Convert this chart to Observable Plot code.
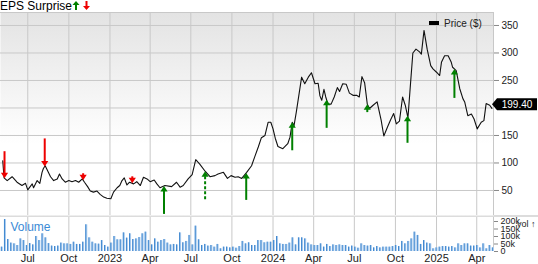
<!DOCTYPE html>
<html>
<head>
<meta charset="utf-8">
<script src="https://cdn.jsdelivr.net/npm/d3@7"></script>
<script src="https://cdn.jsdelivr.net/npm/@observablehq/plot@0.6"></script>
<style>
  html, body { margin: 0; padding: 0; background: #fff; }
  #wrap { position: relative; width: 538px; height: 264px; overflow: hidden;
          font-family: "Liberation Sans", Arial, Helvetica, sans-serif; }
  #title { height: 12px; font-size: 12px; line-height: 12px; color: #000; white-space: nowrap; display: flex; align-items: flex-start; }
  #title svg { display: inline-block; margin-top: 1px; }
  #legend { position: absolute; left: 429px; top: 18px; font-size: 10px; line-height: 12px; color: #222; white-space: nowrap; }
  #legend span.sw { display: inline-block; width: 10px; height: 4px; background: #000; vertical-align: middle; margin-right: 5px; position: relative; top: -1px; }
  #volbox { border-top: 2px solid #dcdcdc; }
</style>
</head>
<body>
<div id="wrap">
  <div id="title">EPS Surprise<svg width="8" height="9" viewBox="0 0 8 9"><path d="M4 0 L7.5 4 L5 4 L5 9 L3 9 L3 4 L0.5 4 Z" fill="#008000"/></svg><svg width="9" height="9" viewBox="0 0 9 9" style="margin-left:2px"><path d="M4.5 9 L8 5 L5.5 5 L5.5 0 L3.5 0 L3.5 5 L1 5 Z" fill="#ee0000"/></svg></div>
  <div id="price"></div>
  <div id="volbox"></div>
  <div id="legend"><span class="sw"></span>Price ($)</div>
</div>
<script>
// ---------------- data ----------------
const priceDates = [
  "2022-05-06","2022-05-09","2022-05-16","2022-05-27","2022-06-07","2022-06-18","2022-06-26","2022-07-01",
  "2022-07-11","2022-07-14","2022-07-22","2022-07-28","2022-08-02","2022-08-05","2022-08-09","2022-08-21",
  "2022-08-28","2022-09-05","2022-09-10","2022-09-16","2022-09-23","2022-10-01","2022-10-08","2022-10-16",
  "2022-10-23","2022-10-31","2022-11-05","2022-11-12","2022-11-18","2022-11-25","2022-12-03","2022-12-10",
  "2022-12-18","2022-12-25","2023-01-03","2023-01-09","2023-01-17","2023-01-23","2023-01-28","2023-02-02",
  "2023-02-08","2023-02-14","2023-02-23","2023-03-02","2023-03-10","2023-03-17","2023-03-25","2023-04-01",
  "2023-04-10","2023-04-16","2023-04-23","2023-05-04","2023-05-19","2023-05-30","2023-06-07","2023-06-14",
  "2023-06-25","2023-07-04","2023-07-12","2023-07-21","2023-08-02","2023-08-13","2023-08-24","2023-08-31",
  "2023-09-12","2023-09-21","2023-09-29","2023-10-08","2023-10-15","2023-10-23","2023-11-03","2023-11-14",
  "2023-11-21","2023-11-29","2023-12-06","2023-12-14","2023-12-21","2023-12-27","2024-01-01","2024-01-06",
  "2024-01-12","2024-01-23","2024-02-03","2024-02-08","2024-02-13","2024-02-17","2024-02-22","2024-03-05",
  "2024-03-12","2024-03-20","2024-03-27","2024-04-04","2024-04-11","2024-04-15","2024-04-19","2024-04-24",
  "2024-04-28","2024-05-03","2024-05-10","2024-05-17","2024-05-24","2024-05-29","2024-06-05","2024-06-13",
  "2024-06-20","2024-06-28","2024-07-06","2024-07-12","2024-07-18","2024-07-24","2024-07-30","2024-08-04",
  "2024-08-12","2024-08-21","2024-08-30","2024-09-05","2024-09-13","2024-09-20","2024-09-27","2024-10-03",
  "2024-10-10","2024-10-17","2024-10-23","2024-10-29","2024-11-04","2024-11-09","2024-11-16","2024-11-24",
  "2024-11-28","2024-12-04","2024-12-11","2024-12-19","2024-12-24","2025-01-01","2025-01-08","2025-01-12",
  "2025-01-19","2025-01-27","2025-02-03","2025-02-06","2025-02-14","2025-02-22","2025-03-01","2025-03-05",
  "2025-03-12","2025-03-20","2025-03-26","2025-04-02","2025-04-11","2025-04-17","2025-04-22","2025-04-30",
  "2025-05-05"
];
const priceValues = [
  104,73,68,75,65,59,63,51,
  62,55,68,63,83,90,95,75,
  68,71,80,71,65,68,66,68,
  65,71,65,57,49,47,49,43,
  38,36,35,47,55,59,68,73,
  60,65,62,66,59,74,71,66,
  69,62,55,59,57,65,56,59,
  71,79,106,98,85,75,77,80,
  83,72,77,74,75,72,83,95,
  111,129,146,150,174,174,162,145,
  130,126,135,147,174,168,192,256,
  244,256,264,244,245,222,214,234,
  220,207,207,220,237,230,244,243,
  227,223,223,220,257,246,207,199,
  205,211,178,149,165,178,190,171,
  176,220,205,182,247,300,307,302,
  298,341,307,277,271,265,259,283,
  295,295,283,274,268,235,217,211,
  186,189,180,162,174,177,208,205,
  199.4
];

const volStart = "2022-05-04";            // first weekly bar
const volumeK = [                          // weekly volume, thousands of shares
  29,213,80,56,51,40,84,73,40,53,
  44,100,73,118,91,53,36,33,36,56,
  51,51,47,62,47,47,62,178,91,62,
  51,49,73,40,29,56,100,78,78,124,
  89,118,80,84,93,118,129,73,44,84,
  62,73,80,56,44,47,44,124,58,67,
  107,44,169,78,40,47,36,40,29,47,
  18,29,29,24,29,22,33,67,51,58,
  40,40,73,73,58,62,62,73,100,51,
  47,47,56,91,44,91,91,84,56,44,
  40,40,51,29,47,33,44,40,44,40,
  40,29,36,29,22,51,40,36,40,24,
  33,24,29,29,29,33,40,33,67,51,
  67,84,129,107,47,73,56,51,18,24,
  29,33,33,29,33,24,51,40,51,51,
  36,36,40,24,51,18,40,24
];

const epsDates    = ["2022-05-10","2022-08-08","2022-11-02","2023-02-20","2023-05-02","2023-08-02","2023-11-02","2024-02-13","2024-04-30","2024-07-30","2024-10-28","2025-02-10"];
const epsSurprise = [-19.3, -20, -5, -5, 20, 20, 19.3, 20, 20, 5.7, 19.3, 20.7];   // % surprise
const epsDashed   = [false,false,false,false,false,true,false,false,false,false,false,false];

const quarterTicks = ["2022-07-01","2022-10-01","2023-01-01","2023-04-01","2023-07-01","2023-10-01","2024-01-01","2024-04-01","2024-07-01","2024-10-01","2025-01-01","2025-04-01"];
const quarterLabels = ["Jul","Oct","2023","Apr","Jul","Oct","2024","Apr","Jul","Oct","2025","Apr"];
const priceGridTicks = [50,100,150,200,250,300,350];
const priceLabelTicks = [50,100,150,250,300,350];
const volTicks = [0,50,100,150,200];
const volTickLabels = ["0","50k","100k","150k","200k"];
const lastPriceLabel = "199.40";

// ---------------- build ----------------
const FONT = "'Liberation Sans', Arial, Helvetica, sans-serif";
const xDomain = [new Date("2022-05-01"), new Date("2025-05-08T12:00:00Z")];
const qTicks = quarterTicks.map(d => new Date(d));
const qLabel = new Map(qTicks.map((d, i) => [+d, quarterLabels[i]]));

const priceData = priceDates.map((d, i) => ({date: new Date(d), price: priceValues[i]}));
const bis = d3.bisector(d => d.date).left;
function priceAt(date) {
  const i = bis(priceData, date);
  if (i <= 0) return priceData[0].price;
  if (i >= priceData.length) return priceData[priceData.length - 1].price;
  const a = priceData[i - 1], b = priceData[i];
  const t = (date - a.date) / (b.date - a.date);
  return a.price + t * (b.price - a.price);
}
const eps = epsDates.map((d, i) => {
  const date = new Date(d);
  return {date, tip: priceAt(date), s: epsSurprise[i], dashed: epsDashed[i]};
});
const arrowLen = d => Math.abs(d.s) * 1.4;
const arrowRot = d => d.s >= 0 ? 0 : 180;
const arrowCol = d => d.s >= 0 ? "#008000" : "#ee0000";

const shaftShape = {draw(ctx, l) { ctx.moveTo(0, 0); ctx.lineTo(0, -l + 4); }};
const headShape = {draw(ctx, l) { ctx.moveTo(0, -l); ctx.lineTo(3.6, -l + 5.5); ctx.lineTo(-3.6, -l + 5.5); ctx.closePath(); }};

const GRID = "#c8c8c8";

const pricePlot = Plot.plot({
  width: 538, height: 203,
  marginLeft: 0, marginRight: 45, marginTop: 0, marginBottom: 0,
  x: {type: "utc", domain: xDomain, axis: null},
  y: {domain: [4.5, 373.6]},
  length: {type: "identity"},
  style: {fontFamily: FONT, fontSize: "10px", color: "#222", background: "transparent", overflow: "visible"},
  marks: [
    Plot.frame({fill: "url(#pgrad)", stroke: null}),
    Plot.gridX(qTicks, {stroke: GRID, strokeOpacity: 1}),
    Plot.gridY(priceGridTicks, {stroke: GRID, strokeOpacity: 1}),
    Plot.ruleY([373.6], {stroke: GRID}),
    Plot.ruleX([xDomain[1]], {stroke: GRID}),
    Plot.axisY(priceLabelTicks, {anchor: "right", tickSize: 5, tickPadding: 3, stroke: "#888", fill: "#222", fontSize: 10}),
    Plot.line(priceData, {x: "date", y: "price", stroke: "#111", strokeWidth: 1.1}),
    Plot.vector(eps.filter(d => !d.dashed), {x: "date", y: "tip", length: arrowLen, rotate: arrowRot, anchor: "end",
      shape: shaftShape, stroke: arrowCol, strokeWidth: 2, strokeLinecap: "butt"}),
    Plot.vector(eps.filter(d => d.dashed), {x: "date", y: "tip", length: arrowLen, rotate: arrowRot, anchor: "end",
      shape: shaftShape, stroke: arrowCol, strokeWidth: 2, strokeLinecap: "butt", strokeDasharray: "3,2"}),
    Plot.vector(eps, {x: "date", y: "tip", length: arrowLen, rotate: arrowRot, anchor: "end",
      shape: headShape, fill: arrowCol, stroke: "none"})
  ]
});

// gradient background for the price panel
const defs = d3.select(pricePlot).insert("defs", ":first-child");
const grad = defs.append("linearGradient").attr("id", "pgrad").attr("x1", 0).attr("y1", 0).attr("x2", 0).attr("y2", 1);
grad.append("stop").attr("offset", "0%").attr("stop-color", "#e3e3e3");
grad.append("stop").attr("offset", "65%").attr("stop-color", "#ffffff");
grad.append("stop").attr("offset", "100%").attr("stop-color", "#ffffff");

// last price tag
{
  const yS = pricePlot.scale("y"), xS = pricePlot.scale("x");
  const yc = yS.apply(priceValues[priceValues.length - 1]) - 3.5;
  const xt = xS.apply(xDomain[1]) - 1;
  const g = d3.select(pricePlot).append("g");
  g.append("path")
    .attr("d", `M${xt},${yc} L${xt + 5},${yc - 6} L537,${yc - 6} L537,${yc + 6} L${xt + 5},${yc + 6} Z`)
    .attr("fill", "#000");
  g.append("text").attr("x", (xt + 5 + 537) / 2).attr("y", yc).attr("dy", "0.36em")
    .attr("text-anchor", "middle").attr("fill", "#fff").attr("font-size", 10)
    .attr("font-family", FONT).text(lastPriceLabel);
}
document.getElementById("price").appendChild(pricePlot);

// volume
const volData = volumeK.map((v, i) => ({date: d3.utcDay.offset(new Date(volStart), 7 * i), vol: v}));
const volLabel = new Map(volTicks.map((d, i) => [d, volTickLabels[i]]));

const volPlot = Plot.plot({
  width: 538, height: 47,
  marginLeft: 0, marginRight: 45, marginTop: 0, marginBottom: 13,
  x: {type: "utc", domain: xDomain},
  y: {domain: [0, 226.7]},
  style: {fontFamily: FONT, fontSize: "10px", color: "#222", background: "#fff", overflow: "visible"},
  marks: [
    Plot.gridX(qTicks, {stroke: GRID, strokeOpacity: 1}),
    Plot.ruleX([xDomain[1]], {stroke: GRID}),
    Plot.ruleX(volData, {x: "date", y1: 0, y2: "vol", stroke: "#a9cbee", strokeWidth: 2}),
    Plot.ruleX(volData, {x: "date", y1: 0, y2: "vol", stroke: "#3f87cf", strokeWidth: 1, dx: -0.5}),
    Plot.axisY(volTicks, {anchor: "right", tickSize: 4, tickPadding: 3, stroke: "#888", fill: "#222", fontSize: 9,
      tickFormat: d => volLabel.get(d)}),
    Plot.axisX(qTicks, {anchor: "bottom", tickSize: 0, tickPadding: 3, fill: "#222", fontSize: 11,
      tickFormat: d => qLabel.get(+d)}),
    Plot.text(["Volume"], {frameAnchor: "top-left", dx: 10, dy: 5, fill: "#3a8ad6", fontSize: 12, textAnchor: "start", lineAnchor: "top"})
  ]
});
document.getElementById("volbox").appendChild(volPlot);
</script>
</body>
</html>
